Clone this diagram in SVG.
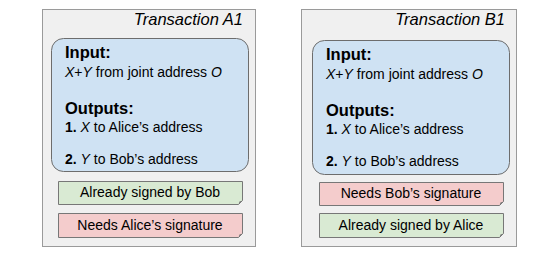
<svg xmlns="http://www.w3.org/2000/svg" width="559" height="256" viewBox="0 0 559 256">
<style>
.outer{fill:#f0f0f0;stroke:#9a9a9a;stroke-width:1}
.inner{fill:#cfe2f3;stroke:#6d6d6d;stroke-width:1}
.green{fill:#d9ead3;stroke:#777;stroke-width:1}
.pink{fill:#f4cccc;stroke:#777;stroke-width:1}
.fold{fill:#777;stroke:none}
text{font-family:"Liberation Sans",Arial,sans-serif;fill:#000}
.title{font-size:16.5px;font-style:italic}
.head{font-size:16.5px;font-weight:bold}
.body{font-size:14px}
.note{font-size:14px;text-anchor:middle}
</style>
<g id="transaction-a1">
<rect class="outer" x="42.5" y="9.5" width="213" height="237"/>
<text class="title" x="243" y="25" text-anchor="end">Transaction A1</text>
<rect class="inner" x="51.5" y="38.5" width="197" height="133" rx="12"/>
<text class="head" x="65" y="58">Input:</text>
<text class="body" x="65" y="77"><tspan font-style="italic">X</tspan>+<tspan font-style="italic">Y</tspan> from joint address <tspan font-style="italic">O</tspan></text>
<text class="head" x="65" y="114">Outputs:</text>
<text class="body" x="65" y="132"><tspan font-weight="bold">1.</tspan> <tspan font-style="italic">X</tspan> to Alice’s address</text>
<text class="body" x="65" y="164"><tspan font-weight="bold">2.</tspan> <tspan font-style="italic">Y</tspan> to Bob’s address</text>
</g>
<g id="note-a1-bob">
<path class="green" d="M58.5 181.5 H242.5 V200.5 L238.5 204.5 H58.5 Z"/>
<path class="fold" d="M242.5 200.5 L238.5 204.5 L239.5 201.5 Z"/>
<text class="note" x="150" y="197">Already signed by Bob</text>
</g>
<g id="note-a1-alice">
<path class="pink" d="M58.5 213.5 H242.5 V233.5 L238.5 237.5 H58.5 Z"/>
<path class="fold" d="M242.5 233.5 L238.5 237.5 L239.5 234.5 Z"/>
<text class="note" x="150" y="230">Needs Alice’s signature</text>
</g>
<g id="transaction-b1">
<rect class="outer" x="301.5" y="9.5" width="215" height="237"/>
<text class="title" x="505" y="25" text-anchor="end">Transaction B1</text>
<rect class="inner" x="312.5" y="40.5" width="197" height="134" rx="12"/>
<text class="head" x="326" y="60">Input:</text>
<text class="body" x="326" y="79"><tspan font-style="italic">X</tspan>+<tspan font-style="italic">Y</tspan> from joint address <tspan font-style="italic">O</tspan></text>
<text class="head" x="326" y="116">Outputs:</text>
<text class="body" x="326" y="134"><tspan font-weight="bold">1.</tspan> <tspan font-style="italic">X</tspan> to Alice’s address</text>
<text class="body" x="326" y="166"><tspan font-weight="bold">2.</tspan> <tspan font-style="italic">Y</tspan> to Bob’s address</text>
</g>
<g id="note-b1-bob">
<path class="pink" d="M319.5 182.5 H503.5 V201.5 L499.5 205.5 H319.5 Z"/>
<path class="fold" d="M503.5 201.5 L499.5 205.5 L500.5 202.5 Z"/>
<text class="note" x="411" y="198">Needs Bob’s signature</text>
</g>
<g id="note-b1-alice">
<path class="green" d="M319.5 213.5 H503.5 V233.5 L499.5 237.5 H319.5 Z"/>
<path class="fold" d="M503.5 233.5 L499.5 237.5 L500.5 234.5 Z"/>
<text class="note" x="411" y="230">Already signed by Alice</text>
</g>
<g id="connectors"></g>
</svg>
